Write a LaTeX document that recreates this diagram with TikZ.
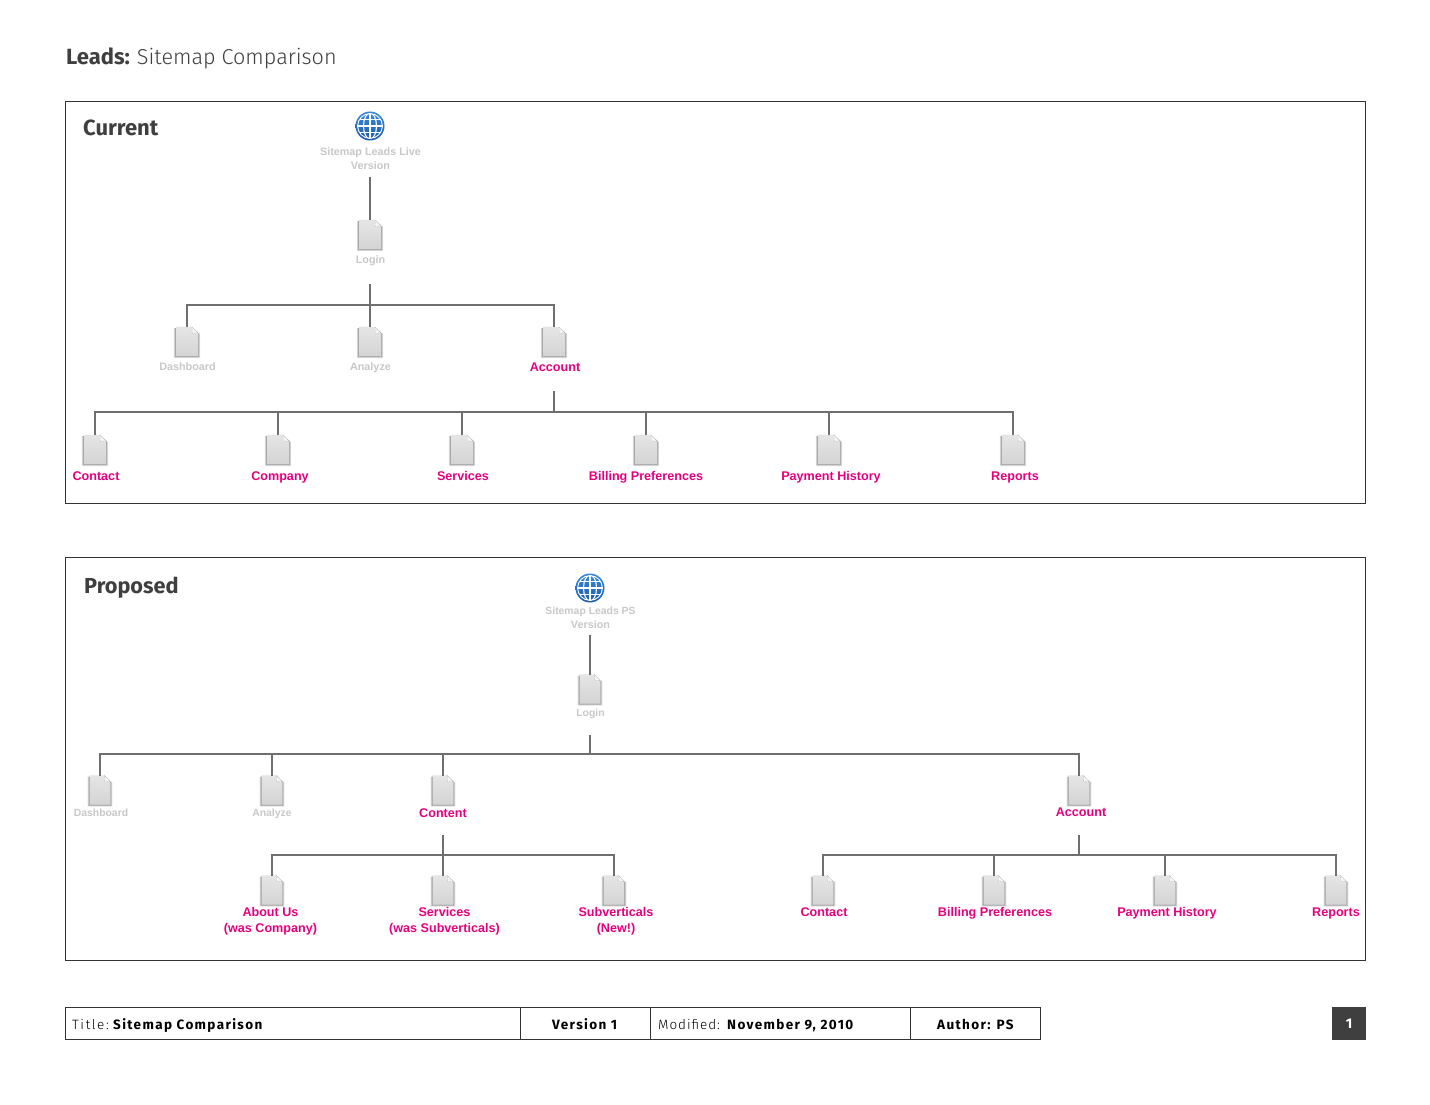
\documentclass[tikz,border=0pt]{standalone}
\usepackage{fontspec}
\setmainfont{Liberation Sans}
\newfontfamily\dinf{Fira Sans}
\newfontfamily\dinl{Fira Sans Light}
\newfontfamily\dinls[LetterSpace=12]{Fira Sans Light}
\newfontfamily\dinlm[LetterSpace=7]{Fira Sans Light}
\usetikzlibrary{calc}
\definecolor{linegray}{HTML}{6F6F6F}
\definecolor{framegray}{HTML}{333333}
\definecolor{hotpink}{HTML}{E5007E}
\definecolor{palegray}{HTML}{C8C8C8}
\definecolor{darktxt}{HTML}{3F3F3F}
\definecolor{globetop}{HTML}{3A8ADB}
\definecolor{globebot}{HTML}{1C5CA8}
\tikzset{
  x=1pt,y=-1pt,
  conn/.style={draw=linegray,line width=1.6pt},
  framebox/.style={draw=framegray,line width=0.9pt},
  pageicon/.style={minimum width=22pt,minimum height=29pt,inner sep=0pt,outer sep=0pt},
  hot/.style={text=hotpink,font=\fontsize{12.6}{16}\selectfont\bfseries,align=center,inner sep=0pt,anchor=base},
  pale/.style={text=palegray,font=\fontsize{10.8}{13.6}\selectfont\bfseries,align=center,inner sep=0pt,anchor=base},
  heading/.style={text=darktxt,font=\dinf\fontsize{22}{26}\selectfont\bfseries,anchor=base west,inner sep=0pt},
  foot/.style={text=black,font=\dinf\fontsize{13.5}{16}\selectfont\addfontfeature{LetterSpace=10},anchor=base west,inner sep=0pt},
  globe/.style={circle,minimum size=29pt,inner sep=0pt,outer sep=0pt}
}
% page icon: name, x, y
\newcommand{\pg}[3]{%
  \node[pageicon] (#1) at (#2,#3) {};
  \foreach \e/\o in {2.2/.12,1.4/.16,.7/.2}{
    \fill[black,opacity=\o] ($(#1.north west)+(-\e,1)$) -- ($(#1.north east)+(-5,1)$) -- ($(#1.north east)+(\e,7)$) -- ($(#1.south east)+(\e,\e)$) -- ($(#1.south west)+(-\e,\e)$) -- cycle;
  }
  \shade[top color=black!10,bottom color=black!17,draw=black!14,line width=.4pt]
    (#1.north west) -- ($(#1.north east)+(-6,0)$) -- ($(#1.north east)+(0,6)$) -- (#1.south east) -- (#1.south west) -- cycle;
  \fill[black!4,draw=black!35,densely dotted,line width=.5pt] ($(#1.north east)+(-6,0)$) -- ($(#1.north east)+(0,6)$) -- ($(#1.north east)+(-6,6)$) -- cycle;
}
% globe: name, x, y
\newcommand{\gb}[3]{%
  \node[globe] (#1) at (#2,#3) {};
  \shade[top color=globetop,bottom color=globebot] (#1) circle (14.5);
  \begin{scope}
    \clip (#1) circle (12.6);
    \foreach \d in {-6.5,0,6.5}{
      \draw[white,line width=1.1pt] ($(#1)+(-15,\d)$) -- ($(#1)+(15,\d)$);
    }
    \draw[white,line width=1.1pt] ($(#1)+(0,-15)$) -- ($(#1)+(0,15)$);
    \draw[white,line width=1.1pt] (#1) ellipse (6.5 and 13);
  \end{scope}
  \draw[white,line width=.9pt] (#1) circle (12.4);
}
\begin{document}
\begin{tikzpicture}
\useasboundingbox (0,0) rectangle (1430,1105);
\fill[white] (0,0) rectangle (1430,1105);

\node[heading] (title) at (66,65) {Leads: {\dinl\mdseries\fontsize{21.6}{26}\selectfont Sitemap Comparison}};

\node[framebox,minimum width=1300pt,minimum height=402pt,inner sep=0pt] (current) at (715.5,302.5) {};
\node[framebox,minimum width=1300pt,minimum height=403pt,inner sep=0pt] (proposed) at (715.5,759) {};
\node[heading] (curh) at (83,136) {Current};
\node[heading,font=\dinf\fontsize{21.7}{26}\selectfont\bfseries] (proh) at (84,593) {Proposed};

% ---- Current
\gb{croot}{370}{126}
\node[pale] (crootl) at (370.5,169) {Sitemap Leads Live\\Version};
\pg{clogin}{370}{234.5}
\node[pale] at (370.5,263) (cloginl) {Login};
\pg{cdash}{187}{341.5}
\node[pale] at (187.5,370) (cdashl) {Dashboard};
\pg{cana}{370}{341.5}
\node[pale] at (370.5,370) (canal) {Analyze};
\pg{cacc}{554}{341.5}
\node[hot] at (555,371) (caccl) {Account};
\pg{ccon}{95}{449.5}
\node[hot] at (96,480) (cconl) {Contact};
\pg{ccom}{278}{449.5}
\node[hot] at (280,480) (ccoml) {Company};
\pg{cser}{462}{449.5}
\node[hot] at (463,480) (cserl) {Services};
\pg{cbil}{646}{449.5}
\node[hot] at (646,480) (cbill) {Billing Preferences};
\pg{cpay}{829}{449.5}
\node[hot] at (831,480) (cpayl) {Payment History};
\pg{crep}{1013}{449.5}
\node[hot] at (1015,480) (crepl) {Reports};

\coordinate (s1) at (370,177);
\coordinate (s2) at (370,284);
\coordinate (s3) at (554,391);
\draw[conn] (s1) -- (clogin.north);
\foreach \c in {cdash,cana,cacc}{ \draw[conn] (s2) -- ++(0,21) -| (\c.north); }
\foreach \c in {ccon,ccom,cser,cbil,cpay,crep}{ \draw[conn] (s3) -- ++(0,21) -| (\c.north); }

% ---- Proposed
\tikzset{pageicon/.append style={minimum width=20.5pt}}
\gb{proot}{590}{588}
\node[pale] (prootl) at (590.5,628) {\fontsize{10.4}{13}\selectfont Sitemap Leads PS\\Version};
\pg{plogin}{590}{689}
\node[pale] at (590.5,716) (ploginl) {\fontsize{10.4}{13}\selectfont Login};
\pg{pdash}{100}{790}
\node[pale] at (101,816) (pdashl) {\fontsize{10.4}{13}\selectfont Dashboard};
\pg{pana}{272}{790}
\node[pale] at (272,816) (panal) {\fontsize{10.4}{13}\selectfont Analyze};
\pg{pcont}{443}{790}
\node[hot] at (443,817) (pcontl) {Content};
\pg{pacc}{1079}{790}
\node[hot] at (1081,816) (paccl) {Account};
\pg{pabo}{272}{890}
\node[hot] at (270.5,932) (pabol) {About Us\\(was Company)};
\pg{pser}{443}{890}
\node[hot] at (444.5,932) (pserl) {Services\\(was Subverticals)};
\pg{psub}{614}{890}
\node[hot] at (616,932) (psubl) {Subverticals\\(New!)};
\pg{pcon}{823}{890}
\node[hot] at (824,916) (pconl) {Contact};
\pg{pbil}{994}{890}
\node[hot] at (995,916) (pbill) {Billing Preferences};
\pg{ppay}{1165}{890}
\node[hot] at (1167,916) (ppayl) {Payment History};
\pg{prep}{1336}{890}
\node[hot] at (1336,916) (prepl) {Reports};

\coordinate (t1) at (590,635);
\coordinate (t2) at (590,735);
\coordinate (t3) at (443,835);
\coordinate (t4) at (1079,835);
\draw[conn] (t1) -- (plogin.north);
\foreach \c in {pdash,pana,pcont,pacc}{ \draw[conn] (t2) -- ++(0,19) -| (\c.north); }
\foreach \c in {pabo,pser,psub}{ \draw[conn] (t3) -- ++(0,20) -| (\c.north); }
\foreach \c in {pcon,pbil,ppay,prep}{ \draw[conn] (t4) -- ++(0,20) -| (\c.north); }

% ---- Footer
\node[framebox,minimum width=455pt,minimum height=32.5pt,inner sep=0pt] (f1) at (293,1023.5) {};
\node[framebox,minimum width=130pt,minimum height=32.5pt,inner sep=0pt] (f2) at (585.5,1023.5) {};
\node[framebox,minimum width=260pt,minimum height=32.5pt,inner sep=0pt] (f3) at (780.5,1023.5) {};
\node[framebox,minimum width=130pt,minimum height=32.5pt,inner sep=0pt] (f4) at (975.5,1023.5) {};
\node[foot] (f1t) at (72,1029) {{\dinls Title:}};
\node[foot] (f1b) at (113,1029) {\textbf{Sitemap Comparison}};
\node[foot] (f2t) at (552,1029) {\textbf{Version 1}};
\node[foot] (f3t) at (658,1029) {{\dinlm Modified:}};
\node[foot] (f3b) at (727,1029) {\textbf{November 9, 2010}};
\node[foot] (f4t) at (937,1029) {\textbf{Author: PS}};
\node[fill=darktxt,minimum width=34pt,minimum height=33pt,inner sep=0pt,text=white,font=\dinf\fontsize{14}{16}\selectfont\bfseries] (pnum) at (1349,1023.5) {1};
\end{tikzpicture}
\end{document}
